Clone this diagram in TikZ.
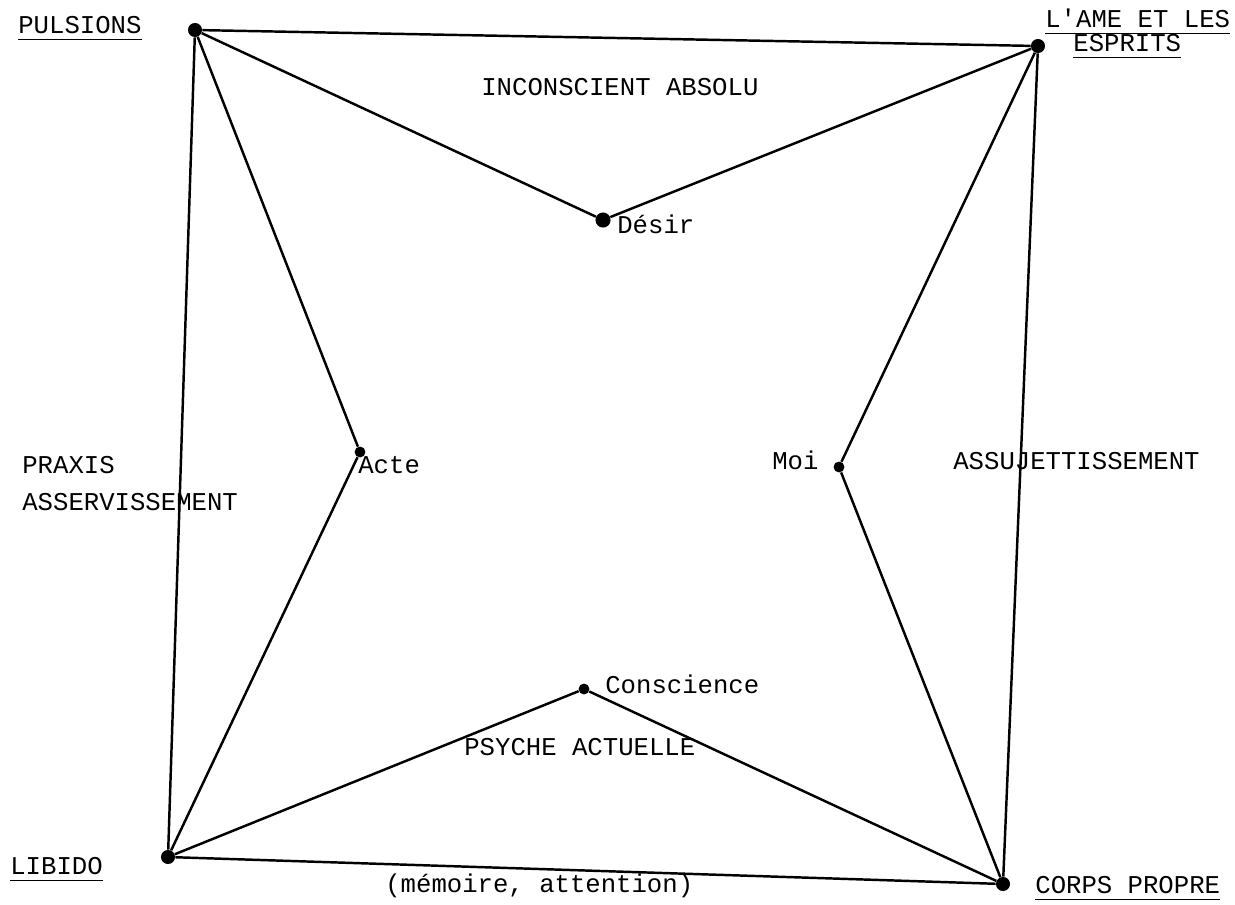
\documentclass[tikz,border=0pt]{standalone}
\usepackage{fontspec}
\setmainfont{Liberation Mono}[Ligatures=TeXOff]
\begin{document}
\begin{tikzpicture}[x=0.02cm,y=-0.02cm,dot/.style={circle,fill=black,inner sep=0pt,minimum size=8pt},pt/.style={dot,minimum size=6.2pt},edge/.style={draw=black,line width=1.4pt},lbl/.style={anchor=base west,inner xsep=0pt,inner ysep=3.5pt,text depth=0pt,font=\fontsize{14.6pt}{17pt}\selectfont},ul/.style={draw=black,line width=1pt}]
\useasboundingbox (0,0) rectangle (1235,904);
\node[dot] (n0) at (195,30) {};
\node[dot] (n1) at (1038,46) {};
\node[dot,minimum size=8.6pt] (n2) at (603,220) {};
\node[pt] (n3) at (360,452) {};
\node[pt] (n4) at (839,467) {};
\node[pt] (n5) at (584,689) {};
\node[dot] (n6) at (168,857) {};
\node[dot] (n7) at (1003,884) {};
\draw[edge] (n0) -- (n1);
\draw[edge] (n0) -- (n2);
\draw[edge] (n2) -- (n1);
\draw[edge] (n0) -- (n3);
\draw[edge] (n3) -- (n6);
\draw[edge] (n0) -- (n6);
\draw[edge] (n1) -- (n4);
\draw[edge] (n4) -- (n7);
\draw[edge] (n1) -- (n7);
\draw[edge] (n6) -- (n5);
\draw[edge] (n5) -- (n7);
\draw[edge] (n6) -- (n7);
\node[lbl] (l0) at (18,33) {PULSIONS};
\node[lbl] (l1) at (1045,27) {L'AME ET LES};
\node[lbl] (l2) at (1073,51) {ESPRITS};
\node[lbl] (l3) at (10,874) {LIBIDO};
\node[lbl] (l4) at (1035,893) {CORPS PROPRE};
\draw[ul] (l0.south west) -- (l0.south east);
\draw[ul] (l1.south west) -- (l1.south east);
\draw[ul] (l2.south west) -- (l2.south east);
\draw[ul] (l3.south west) -- (l3.south east);
\draw[ul] (l4.south west) -- (l4.south east);
\node[lbl] (l5) at (481,95) {INCONSCIENT ABSOLU};
\node[lbl] (l6) at (617,233) {Désir};
\node[lbl] (l7) at (22,473) {PRAXIS};
\node[lbl] (l8) at (22,510) {ASSERVISSEMENT};
\node[lbl] (l9) at (358,473) {Acte};
\node[lbl] (l10) at (772,469) {Moi};
\node[lbl] (l11) at (953,469) {ASSUJETTISSEMENT};
\node[lbl] (l12) at (605,693) {Conscience};
\node[lbl] (l13) at (464,755) {PSYCHE ACTUELLE};
\node[lbl] (l14) at (385,892) {(mémoire, attention)};
\end{tikzpicture}
\end{document}
